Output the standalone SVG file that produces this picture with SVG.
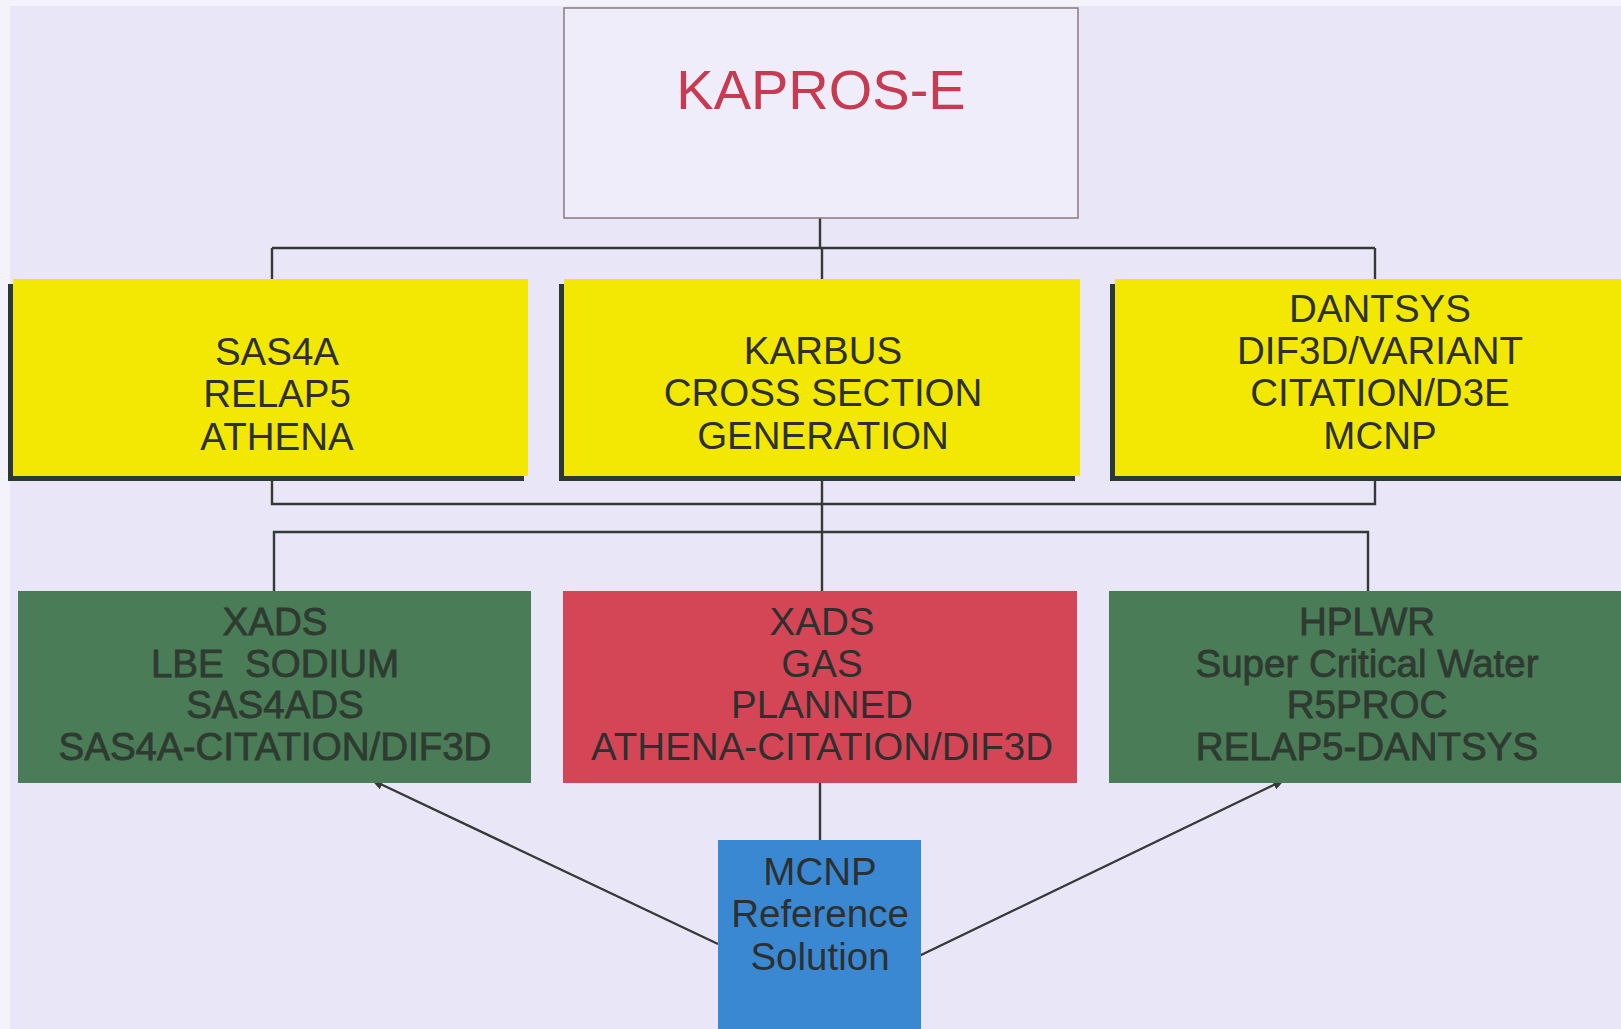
<svg xmlns="http://www.w3.org/2000/svg" width="1621" height="1029" viewBox="0 0 1621 1029">
<style>
.t{font-family:"Liberation Sans",Arial,sans-serif;text-anchor:middle;fill:#2e3030;font-size:38.5px}
.tb{font-family:"Liberation Sans",Arial,sans-serif;text-anchor:middle;fill:#2f3a30;font-size:38.5px;stroke:#2f3a30;stroke-width:0.8}
.yel{fill:#f2e804}
.sh{fill:#2c3832}
.grn{fill:#4a7c58}
.con{stroke:#353a38;stroke-width:2.4;fill:none}
</style>
<defs>
<marker id="ah" markerWidth="12" markerHeight="10" refX="11" refY="5" orient="auto" markerUnits="userSpaceOnUse">
<path d="M0,0 L12,5 L0,10 z" fill="#353a38"/>
</marker>
</defs>
<rect x="0" y="0" width="1621" height="1029" fill="#f4f3fb"/>
<rect x="10" y="6" width="1611" height="1023" fill="#e9e7f7"/>
<g id="connectors">
<path class="con" d="M820,218 V248 M272,248 H1375 M272,248 V279 M822,248 V279 M1375,248 V279"/>
<path class="con" d="M272,476 V504 H1375 V476 M822,476 V591"/>
<path class="con" d="M274,591 V532 H1368 V591"/>
<path class="con" d="M820,783 V840"/>
<line class="con" x1="718" y1="944" x2="372" y2="780" marker-end="url(#ah)"/>
<line class="con" x1="919" y1="956" x2="1284" y2="780" marker-end="url(#ah)"/>
</g>
<g id="kapros">
<rect x="564" y="8" width="514" height="210" fill="#eeedf9" stroke="#8a7a80" stroke-width="1.5"/>
<text x="821" y="109" style="font-family:'Liberation Sans',Arial,sans-serif;font-size:56px;fill:#c83a52;text-anchor:middle">KAPROS-E</text>
</g>
<g id="yellow-left">
<rect class="sh" x="8" y="284" width="516" height="197"/>
<rect class="yel" x="13" y="279" width="515" height="197"/>
<text class="t" x="277" y="365">SAS4A</text>
<text class="t" x="277" y="407">RELAP5</text>
<text class="t" x="277" y="450">ATHENA</text>
</g>
<g id="yellow-mid">
<rect class="sh" x="559" y="284" width="516" height="197"/>
<rect class="yel" x="564" y="279" width="516" height="197"/>
<text class="t" x="823" y="364">KARBUS</text>
<text class="t" x="823" y="406">CROSS SECTION</text>
<text class="t" x="823" y="449">GENERATION</text>
</g>
<g id="yellow-right">
<rect class="sh" x="1110" y="284" width="511" height="197"/>
<rect class="yel" x="1115" y="279" width="506" height="197"/>
<text class="t" x="1380" y="322">DANTSYS</text>
<text class="t" x="1380" y="364">DIF3D/VARIANT</text>
<text class="t" x="1380" y="406">CITATION/D3E</text>
<text class="t" x="1380" y="449">MCNP</text>
</g>
<g id="green-left">
<rect class="grn" x="18" y="591" width="513" height="192"/>
<text class="tb" x="275" y="635">XADS</text>
<text class="tb" x="275" y="677" xml:space="preserve">LBE  SODIUM</text>
<text class="tb" x="275" y="718">SAS4ADS</text>
<text class="tb" x="275" y="760">SAS4A-CITATION/DIF3D</text>
</g>
<g id="red-mid">
<rect x="563" y="591" width="514" height="192" fill="#d44656"/>
<text class="t" x="822" y="635">XADS</text>
<text class="t" x="822" y="677">GAS</text>
<text class="t" x="822" y="718">PLANNED</text>
<text class="t" x="822" y="760">ATHENA-CITATION/DIF3D</text>
</g>
<g id="green-right">
<rect class="grn" x="1109" y="591" width="512" height="192"/>
<text class="tb" x="1367" y="635">HPLWR</text>
<text class="tb" x="1367" y="677">Super Critical Water</text>
<text class="tb" x="1367" y="718">R5PROC</text>
<text class="tb" x="1367" y="760">RELAP5-DANTSYS</text>
</g>
<g id="mcnp">
<rect x="718" y="840" width="203" height="189" fill="#3a88d2"/>
<text class="t" x="820" y="885">MCNP</text>
<text class="t" x="820" y="927">Reference</text>
<text class="t" x="820" y="970">Solution</text>
</g>
</svg>
